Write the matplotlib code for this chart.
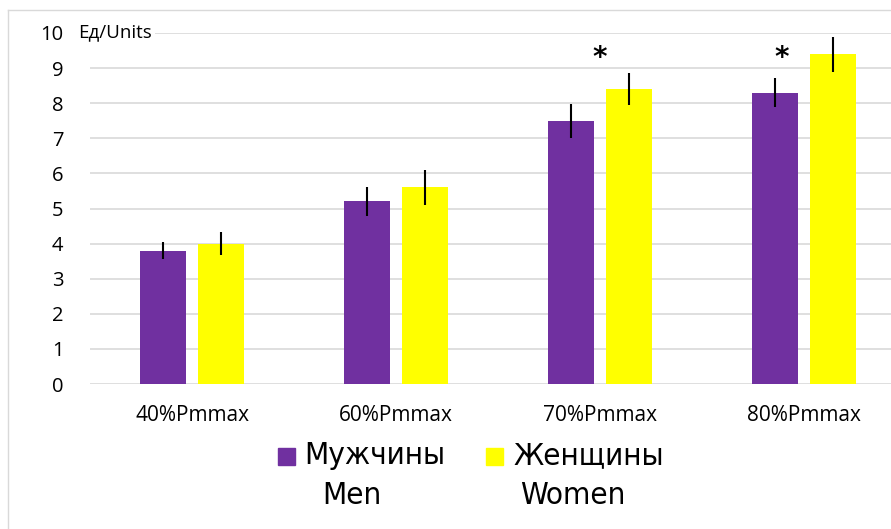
import numpy as np
import matplotlib
matplotlib.use("Agg")
from matplotlib import pyplot as plt
from matplotlib.lines import Line2D
from matplotlib.patches import Rectangle

categories = ["40%Pmmax", "60%Pmmax", "70%Pmmax", "80%Pmmax"]
men = [3.8, 5.2, 7.5, 8.3]
men_err = [0.25, 0.4, 0.48, 0.42]
women = [4.0, 5.6, 8.4, 9.4]
women_err = [0.33, 0.5, 0.45, 0.5]
star_groups = [2, 3]

purple = "#7030A0"
yellow = "#FFFF00"

fig = plt.figure(figsize=(8.91, 5.29), dpi=100)
ax = fig.add_axes([90 / 891, 1 - 384 / 529, 1 - 90 / 891, (384 - 33) / 529])

x = np.arange(len(categories))
w = 0.225
off = 0.142
ax.bar(x - off, men, w, color=purple, zorder=2)
ax.bar(x + off, women, w, color=yellow, zorder=2)
ax.errorbar(x - off, men, yerr=men_err, fmt="none", ecolor="black", elinewidth=1.5, capsize=0, zorder=3)
ax.errorbar(x + off, women, yerr=women_err, fmt="none", ecolor="black", elinewidth=1.5, capsize=0, zorder=3)

# significance marks
ax.text(star_groups[0], 9.3, "*", ha="center", va="center", fontsize=20, fontweight="bold")
ax.text(star_groups[1] - 0.11, 9.3, "*", ha="center", va="center", fontsize=20, fontweight="bold")

ax.set_ylim(0, 10)
ax.set_xlim(-0.5, 3.426)
ax.set_yticks(range(0, 11))
ax.set_yticklabels([str(i) for i in range(0, 11)], fontsize=14.5, family="Open Sans")
ax.set_xticks(x)
ax.set_xticklabels(categories, fontsize=15, family="Open Sans")
ax.tick_params(axis="y", length=0, pad=19)
ax.tick_params(axis="x", length=0, pad=15)
ax.grid(axis="y", color="#d9d9d9", linewidth=1.2, zorder=0)
for s in ax.spines.values():
    s.set_visible(False)

fig.text(78 / 891, 1 - 32 / 529, "Ед/Units", fontsize=13.5, family="Open Sans", va="center", ha="left",
         bbox=dict(facecolor="white", edgecolor="none", pad=2))

# legend drawn by hand so the English names sit under the Russian ones
fig.patches.append(Rectangle((278 / 891, 1 - 465 / 529), 17 / 891, 17 / 529,
                             transform=fig.transFigure, color=purple))
fig.patches.append(Rectangle((486 / 891, 1 - 465 / 529), 17 / 891, 17 / 529,
                             transform=fig.transFigure, color=yellow))
leg = dict(fontsize=22.5, family="DejaVu Sans", stretch="condensed", va="center")
fig.text(304 / 891, 1 - 456 / 529, "Мужчины", ha="left", **leg)
fig.text(513 / 891, 1 - 456 / 529, "Женщины", ha="left", **leg)
fig.text(352 / 891, 1 - 496 / 529, "Men", ha="center", **leg)
fig.text(573 / 891, 1 - 496 / 529, "Women", ha="center", **leg)

# outer frame
fig.lines.append(Line2D([8 / 891, 8 / 891], [0, 1 - 10 / 529], transform=fig.transFigure,
                        color="#d9d9d9", linewidth=1))
fig.lines.append(Line2D([8 / 891, 1], [1 - 10 / 529, 1 - 10 / 529], transform=fig.transFigure,
                        color="#d9d9d9", linewidth=1))

fig.savefig("out.png", dpi=100)
